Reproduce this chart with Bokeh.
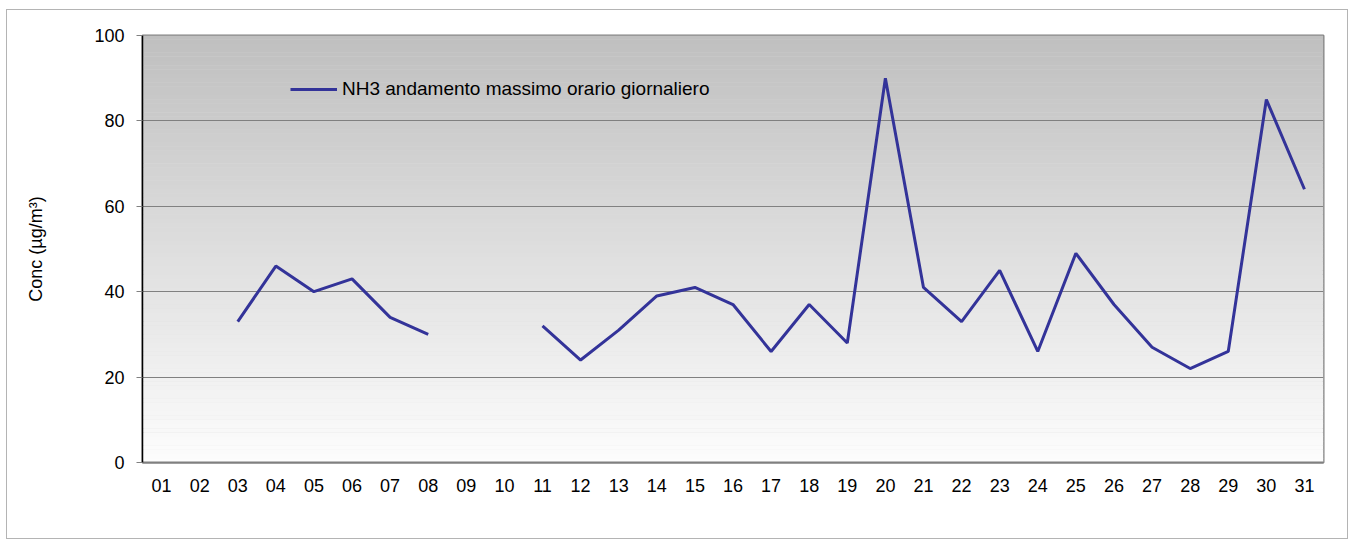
import math
from bokeh.plotting import figure
from bokeh.models import ColumnDataSource, FixedTicker, BoxAnnotation, Range1d, FactorRange
from bokeh.embed import file_html
from bokeh.resources import INLINE

nan = float("nan")

days = ["01", "02", "03", "04", "05", "06", "07", "08", "09", "10",
        "11", "12", "13", "14", "15", "16", "17", "18", "19", "20",
        "21", "22", "23", "24", "25", "26", "27", "28", "29", "30", "31"]
nh3_max = [nan, nan, 33, 46, 40, 43, 34, 30, nan, nan,
           32, 24, 31, 39, 41, 37, 26, 37, 28, 90,
           41, 33, 45, 26, 49, 37, 27, 22, 26, 85, 64]
y_ticks = [0, 20, 40, 60, 80, 100]
series_label = "NH3 andamento massimo orario giornaliero"
y_label = "Conc (\u00b5g/m\u00b3)"

FONT = "Liberation Sans"

p = figure(width=1342, height=530, output_backend="svg", toolbar_location=None,
           x_range=FactorRange(factors=days), y_range=Range1d(0, 100),
           min_border_left=135, min_border_top=25, min_border_right=26, min_border_bottom=78)
p.styles = {"border": "1px solid #b4b4b4", "box-sizing": "border-box",
            "margin-left": "6px", "margin-top": "9px"}
p.border_fill_color = "white"
p.background_fill_color = "#dedede"

# vertical gradient background (grey at top to white at bottom)
n_steps = 100
for i in range(n_steps):
    t = (i + 0.5) / n_steps
    c = int(round(253 - (253 - 191) * t))
    col = "#%02x%02x%02x" % (c, c, c)
    p.add_layout(BoxAnnotation(bottom=100 * i / n_steps, top=100 * (i + 1.05) / n_steps,
                               fill_color=col, fill_alpha=1.0, line_color=None,
                               level="image"))

src = ColumnDataSource(dict(day=days, val=nh3_max))
p.line("day", "val", source=src, line_color="#333399", line_width=3,
       legend_label=series_label)

p.outline_line_color = "#808080"
p.outline_line_width = 2

p.ygrid.ticker = FixedTicker(ticks=y_ticks)
p.ygrid.grid_line_color = "#808080"
p.ygrid.grid_line_width = 1
p.xgrid.grid_line_color = None

yax = p.yaxis[0]
yax.ticker = FixedTicker(ticks=y_ticks)
yax.axis_line_color = "#000000"
yax.axis_line_width = 1.5
yax.major_tick_line_color = "#808080"
yax.major_tick_out = 6
yax.major_tick_in = 0
yax.minor_tick_line_color = None
yax.major_label_standoff = 12
yax.major_label_text_font = FONT
yax.major_label_text_font_size = "18px"
yax.major_label_text_color = "#000000"
yax.axis_label = y_label
yax.axis_label_text_font = FONT
yax.axis_label_text_font_size = "18px"
yax.axis_label_text_font_style = "normal"
yax.axis_label_text_color = "#000000"
yax.axis_label_standoff = 45

xax = p.xaxis[0]
xax.axis_line_color = "#808080"
xax.axis_line_width = 2
xax.major_tick_line_color = None
xax.major_tick_out = 0
xax.major_tick_in = 0
xax.major_label_standoff = 16
xax.major_label_text_font = FONT
xax.major_label_text_font_size = "18px"
xax.major_label_text_color = "#000000"

lg = p.legend[0]
lg.location = (148, 362)
lg.background_fill_alpha = 0
lg.border_line_color = None
lg.padding = 0
lg.margin = 0
lg.spacing = 0
lg.glyph_width = 47
lg.glyph_height = 20
lg.label_standoff = 5
lg.label_text_font = FONT
lg.label_text_font_size = "19px"
lg.label_text_color = "#000000"

open("out.html", "w").write(file_html(p, INLINE))
